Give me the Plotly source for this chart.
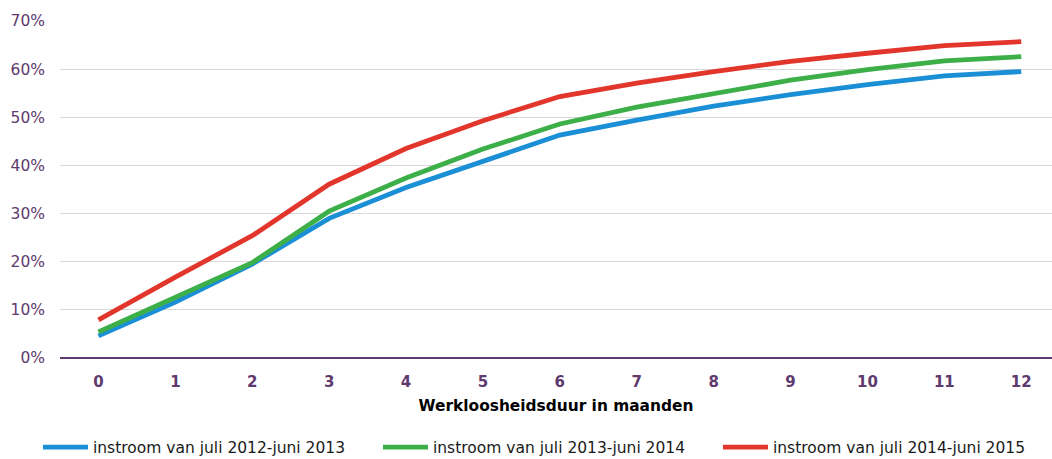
import plotly.graph_objects as go

months = list(range(13))
tick_labels = [str(m) for m in months]
blue_2012 = [4.6, 11.6, 19.5, 29.0, 35.4, 40.9, 46.3, 49.4, 52.3, 54.7, 56.8, 58.6, 59.5]
green_2013 = [5.4, 12.5, 19.8, 30.5, 37.4, 43.4, 48.6, 52.1, 54.9, 57.7, 59.9, 61.7, 62.6]
red_2014 = [7.9, 16.8, 25.4, 36.1, 43.5, 49.3, 54.3, 57.1, 59.5, 61.6, 63.3, 64.9, 65.7]
series_names = ["instroom van juli 2012-juni 2013", "instroom van juli 2013-juni 2014", "instroom van juli 2014-juni 2015"]
colors = ["#1b8fd6", "#3daf48", "#e2352b"]
legend_ids = ["legend", "legend2", "legend3"]
legend_x = [0.0361, 0.3593, 0.6825]

fig = go.Figure()
for name, vals, col, lg in zip(series_names, [blue_2012, green_2013, red_2014], colors, legend_ids):
    fig.add_trace(go.Scatter(x=months, y=vals, mode="lines", name=name, legend=lg,
                             line=dict(color=col, width=4.8)))

purple = "#5e3a6e"
legend_common = dict(orientation="h", xref="container", xanchor="left",
                     yref="container", y=0.062, yanchor="top",
                     font=dict(size=15.5, color="#1a1a1a"), itemwidth=45,
                     bgcolor="rgba(0,0,0,0)")
fig.update_layout(
    width=1052, height=459,
    margin=dict(l=60, r=0, t=21, b=101, autoexpand=False),
    plot_bgcolor="white", paper_bgcolor="white",
    font=dict(family="DejaVu Sans", size=15.5, color="#000000"),
    showlegend=True,
    legend=dict(x=legend_x[0], **legend_common),
    legend2=dict(x=legend_x[1], **legend_common),
    legend3=dict(x=legend_x[2], **legend_common),
    xaxis=dict(range=[-0.5, 12.4], tickmode="array", tickvals=months, ticktext=tick_labels,
               showgrid=False, zeroline=False, showline=False,
               tickfont=dict(size=15, color=purple, family="DejaVu Sans", weight="bold"),
               ticklabelstandoff=13,
               title=dict(text="<b>Werkloosheidsduur in maanden</b>", font=dict(size=15.4, color="#000000"), standoff=10)),
    yaxis=dict(range=[0, 70], dtick=10, ticksuffix="%", showgrid=True, gridcolor="#d9d9d9", gridwidth=1,
               zeroline=True, zerolinecolor=purple, zerolinewidth=2,
               tickfont=dict(size=15.5, color=purple), ticklabelstandoff=14),
)

fig.write_html("out.html", config={"displayModeBar": False},
               post_script="document.body.style.margin='0';document.body.style.overflow='hidden';")
